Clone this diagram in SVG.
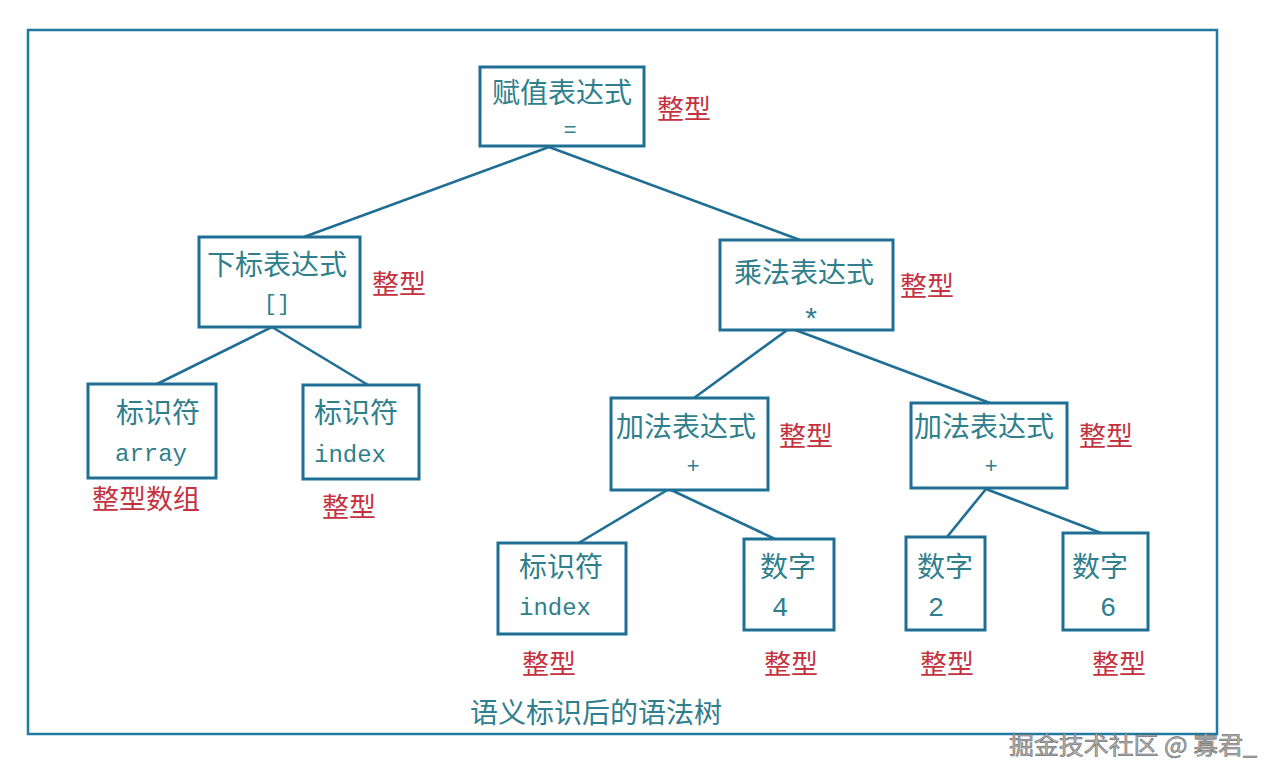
<svg xmlns="http://www.w3.org/2000/svg" width="1280" height="781" viewBox="0 0 1280 781">
<style>
.box{fill:#fff;stroke:#1f6e94;stroke-width:3}
.edge{stroke:#1f6e94;stroke-width:2.6;fill:none}
.cn{font-family:"Noto Sans CJK SC",sans-serif;font-size:28px;fill:#2f7f8c}
.lat{font-family:"Liberation Mono",monospace;font-size:24px;fill:#2f7f8c}
.num{font-family:"Liberation Mono",monospace;font-size:27px;fill:#2f7f8c;text-anchor:middle}
.sym{font-family:"Liberation Mono",monospace;font-size:22px;fill:#2f7f8c;text-anchor:middle}
.ty{font-family:"Noto Sans CJK SC",sans-serif;font-size:27px;fill:#c4323f}
.mid{text-anchor:middle}
</style>
<rect width="1280" height="781" fill="#fff"/>
<rect x="28" y="30" width="1189" height="704" fill="none" stroke="#1f7aa3" stroke-width="2.5"/>
<g id="connectors">
<line class="edge" x1="549" y1="147" x2="304" y2="237"/>
<line class="edge" x1="549" y1="147" x2="800" y2="240"/>
<line class="edge" x1="272" y1="327" x2="155" y2="385"/>
<line class="edge" x1="272" y1="327" x2="368" y2="385"/>
<line class="edge" x1="790" y1="328" x2="694" y2="398"/>
<line class="edge" x1="790" y1="328" x2="990" y2="403"/>
<line class="edge" x1="669" y1="489" x2="577" y2="544"/>
<line class="edge" x1="669" y1="489" x2="775" y2="539"/>
<line class="edge" x1="986" y1="489" x2="947" y2="537"/>
<line class="edge" x1="986" y1="489" x2="1101" y2="533"/>
</g>
<g id="n-assign">
<rect class="box" x="480" y="67" width="164" height="79"/>
<text class="cn mid" x="562" y="103">赋值表达式</text>
<text class="sym" x="570" y="137">=</text>
<text class="ty" x="657" y="119">整型</text>
</g>
<g id="n-subscript">
<rect class="box" x="199" y="237" width="161" height="90"/>
<text class="cn mid" x="277" y="275">下标表达式</text>
<text class="sym" x="277" y="310">[]</text>
<text class="ty" x="372" y="294">整型</text>
</g>
<g id="n-mul">
<rect class="box" x="720" y="240" width="173" height="90"/>
<text class="cn mid" x="804" y="283">乘法表达式</text>
<text x="811" y="328" font-family="Liberation Sans, sans-serif" font-size="30" fill="#2f7f8c" text-anchor="middle">*</text>
<text class="ty" x="900" y="296">整型</text>
</g>
<g id="n-array">
<rect class="box" x="88" y="384" width="128" height="94"/>
<text class="cn" x="116" y="423">标识符</text>
<text class="lat" x="115" y="461">array</text>
<text class="ty" x="92" y="509">整型数组</text>
</g>
<g id="n-index1">
<rect class="box" x="303" y="385" width="116" height="94"/>
<text class="cn" x="314" y="423">标识符</text>
<text class="lat" x="314" y="462">index</text>
<text class="ty" x="322" y="517">整型</text>
</g>
<g id="n-add1">
<rect class="box" x="611" y="398" width="157" height="92"/>
<text class="cn" x="616" y="437">加法表达式</text>
<text class="sym" x="693" y="473">+</text>
<text class="ty" x="779" y="446">整型</text>
</g>
<g id="n-add2">
<rect class="box" x="911" y="403" width="156" height="85"/>
<text class="cn" x="914" y="437">加法表达式</text>
<text class="sym" x="991" y="473">+</text>
<text class="ty" x="1079" y="446">整型</text>
</g>
<g id="n-index2">
<rect class="box" x="498" y="543" width="128" height="91"/>
<text class="cn" x="519" y="577">标识符</text>
<text class="lat" x="519" y="615">index</text>
<text class="ty" x="522" y="674">整型</text>
</g>
<g id="n-num4">
<rect class="box" x="744" y="539" width="90" height="91"/>
<text class="cn" x="760" y="577">数字</text>
<text class="num" x="780" y="616">4</text>
<text class="ty" x="764" y="674">整型</text>
</g>
<g id="n-num2">
<rect class="box" x="906" y="537" width="79" height="93"/>
<text class="cn" x="917" y="577">数字</text>
<text class="num" x="936" y="616">2</text>
<text class="ty" x="920" y="674">整型</text>
</g>
<g id="n-num6">
<rect class="box" x="1063" y="533" width="85" height="97"/>
<text class="cn" x="1072" y="577">数字</text>
<text class="num" x="1108" y="616">6</text>
<text class="ty" x="1092" y="674">整型</text>
</g>
<text class="cn" x="470" y="723">语义标识后的语法树</text>
<text x="1009" y="754" font-family="Noto Sans CJK SC, sans-serif" font-size="24" fill="#b4b4b4" stroke="#5a5a5a" stroke-width="0.5" textLength="248" lengthAdjust="spacingAndGlyphs">掘金技术社区 @ 寡君_</text>
</svg>
